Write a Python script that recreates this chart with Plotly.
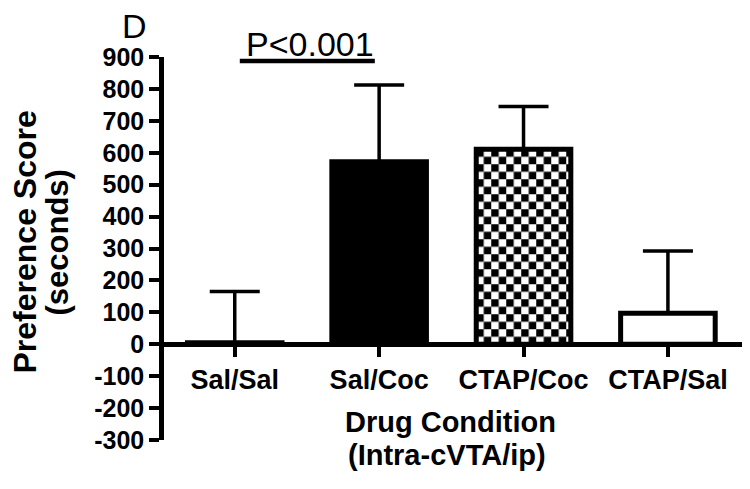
import base64

import plotly.graph_objects as go

# data
conditions = ["Sal/Sal", "Sal/Coc", "CTAP/Coc", "CTAP/Sal"]
scores = [5, 572, 611, 97]
sem = [160, 240, 134, 195]
fills = ["white", "black", "checker", "white"]

y_ticks = list(range(-300, 901, 100))

# the page body has an 8px margin, so the figure is a bit smaller than the window
OFF = 8
W, H = 742, 481
M = dict(l=156, r=7, t=49, b=49)
X_RANGE = [-0.49, 3.52]
Y_RANGE = [-300, 900]
BAR_W = 0.655
FONT = "Liberation Sans, Arial, Helvetica, sans-serif"

plot_w = W - M["l"] - M["r"]
plot_h = H - M["t"] - M["b"]


def checker_uri(w_px, h_px, cell=7.5):
    p = 2 * cell
    svg = (
        f'<svg xmlns="http://www.w3.org/2000/svg" width="{w_px:.1f}" height="{h_px:.1f}" '
        f'viewBox="0 0 {w_px:.1f} {h_px:.1f}"><defs>'
        f'<pattern id="c" width="{p}" height="{p}" patternUnits="userSpaceOnUse">'
        f'<rect width="{p}" height="{p}" fill="white"/>'
        f'<rect width="{cell}" height="{cell}" fill="black"/>'
        f'<rect x="{cell}" y="{cell}" width="{cell}" height="{cell}" fill="black"/>'
        f'</pattern></defs><rect width="100%" height="100%" fill="url(#c)"/></svg>'
    )
    return "data:image/svg+xml;base64," + base64.b64encode(svg.encode()).decode()


colors = ["rgba(0,0,0,0)" if f == "checker" else f for f in fills]

fig = go.Figure()
fig.add_trace(
    go.Bar(
        x=list(range(len(conditions))),
        y=scores,
        width=BAR_W,
        marker=dict(color=colors, line=dict(color="black", width=5)),
        error_y=dict(
            type="data",
            symmetric=False,
            array=sem,
            arrayminus=[0] * len(sem),
            color="black",
            thickness=3.5,
            width=25,
        ),
        showlegend=False,
    )
)

# checkerboard fill for the patterned bar
images = []
for i, (f, v) in enumerate(zip(fills, scores)):
    if f != "checker":
        continue
    w_px = BAR_W * plot_w / (X_RANGE[1] - X_RANGE[0])
    h_px = v * plot_h / (Y_RANGE[1] - Y_RANGE[0])
    images.append(
        dict(
            source=checker_uri(w_px, h_px),
            xref="x", yref="y",
            x=i - BAR_W / 2, y=v,
            sizex=BAR_W, sizey=v,
            xanchor="left", yanchor="top",
            sizing="stretch", layer="below",
        )
    )

zero_pos = (0 - Y_RANGE[0]) / (Y_RANGE[1] - Y_RANGE[0])


# screen pixel -> paper fraction
def sx(x):
    return (x - OFF - M["l"]) / plot_w


def sy(y):
    return (H - M["b"] - (y - OFF)) / plot_h


bold = dict(family=FONT, color="black", weight="bold")


def label(text, x, y, size, font_bold=True, angle=0):
    font = dict(size=size, **bold) if font_bold else dict(size=size, family=FONT, color="black")
    return dict(text=text, xref="paper", yref="paper", x=sx(x), y=sy(y),
                xanchor="center", yanchor="middle", textangle=angle,
                showarrow=False, font=font)


fig.update_layout(
    width=W,
    height=H,
    margin=M,
    paper_bgcolor="white",
    plot_bgcolor="rgba(0,0,0,0)",
    font=dict(family=FONT, color="black"),
    images=images,
    xaxis=dict(
        range=X_RANGE,
        tickmode="array",
        tickvals=list(range(len(conditions))),
        ticktext=conditions,
        anchor="free",
        position=zero_pos,
        showline=True,
        linewidth=4.5,
        linecolor="black",
        ticks="outside",
        ticklen=10,
        tickwidth=4,
        tickcolor="black",
        tickfont=dict(size=27, **bold),
        showgrid=False,
        zeroline=False,
        automargin=False,
    ),
    yaxis=dict(
        range=Y_RANGE,
        tickmode="array",
        tickvals=y_ticks,
        ticktext=[str(t) for t in y_ticks],
        showline=True,
        linewidth=4.5,
        linecolor="black",
        ticks="outside",
        ticklen=10,
        tickwidth=4,
        tickcolor="black",
        tickfont=dict(size=25, **bold),
        showgrid=False,
        zeroline=False,
        automargin=False,
    ),
    annotations=[
        label("D", 134.5, 25.5, 34, font_bold=False),
        label("P<0.001", 309.5, 43.5, 34, font_bold=False),
        label("Preference Score", 24, 242.5, 32, angle=-90),
        label("(seconds)", 57, 242.5, 31, angle=-90),
        label("Drug Condition", 450.5, 421.5, 29),
        label("(Intra-cVTA/ip)", 447, 454.5, 29),
    ],
    shapes=[
        dict(type="line", xref="x", yref="paper", x0=0.035, x1=0.97, y0=sy(61), y1=sy(61),
             line=dict(color="black", width=4.5)),
    ],
)

fig.write_html("out.html")
